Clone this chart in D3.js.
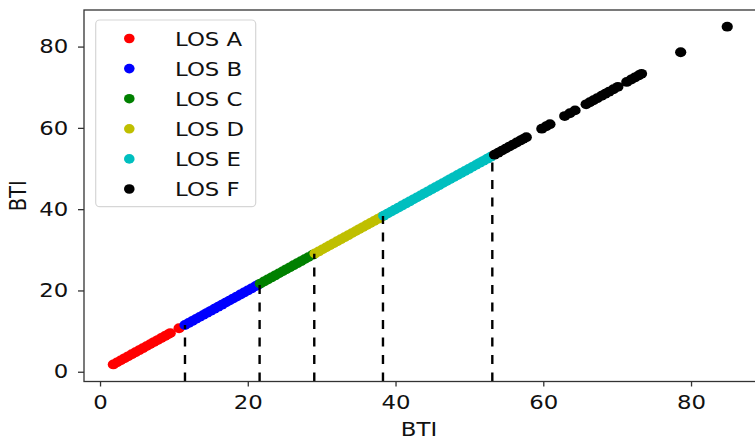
<!DOCTYPE html>
<html>
<head>
<meta charset="utf-8">
<script src="https://cdn.jsdelivr.net/npm/d3@7"></script>
<style>
  html, body { margin: 0; padding: 0; background: #fff; }
  svg { display: block; font-family: "DejaVu Sans", sans-serif; }
</style>
</head>
<body>
<svg id="chart" width="755" height="441"></svg>
<script>
// BTI values per level of service (plotted as BTI against itself)
const losA = [1.8, 2.3, 2.8, 3.3, 3.8, 4.3, 4.8, 5.3, 5.8, 6.3, 6.8, 7.3, 7.8, 8.3, 8.8, 9.2, 9.5, 10.7];
const losB = [11.5, 12.0, 12.5, 13.0, 13.5, 14.0, 14.5, 15.0, 15.5, 16.0, 16.5, 17.0, 17.5, 18.0, 18.5, 19.0, 19.5, 20.0, 20.5, 21.0, 21.4];
const losC = [21.7, 22.2, 22.7, 23.2, 23.7, 24.2, 24.7, 25.2, 25.7, 26.2, 26.7, 27.2, 27.7, 28.2, 28.8];
const losD = [29.1, 29.6, 30.1, 30.6, 31.1, 31.6, 32.1, 32.6, 33.1, 33.6, 34.1, 34.6, 35.1, 35.6, 36.1, 36.6, 37.1, 37.6, 38.1];
const losE = [38.4, 38.9, 39.4, 39.9, 40.4, 40.9, 41.4, 41.9, 42.4, 42.9, 43.4, 43.9, 44.4, 44.9, 45.4, 45.9, 46.4, 46.9, 47.4, 47.9, 48.4, 48.9, 49.4, 49.9, 50.4, 50.9, 51.4, 51.9, 52.4, 52.9];
const losF = [53.4, 53.9, 54.4, 54.9, 55.4, 55.9, 56.4, 56.9, 57.3, 57.7, 59.8, 60.4, 60.9, 62.9, 63.6, 64.3, 65.8, 66.3, 66.8, 67.3, 67.9, 68.4, 68.9, 69.5, 70.1, 71.3, 71.9, 72.4, 72.9, 73.3, 78.6, 84.9];

// LOS thresholds (dashed boundaries)
const thresholds = [11.5, 21.6, 29.0, 38.3, 53.1];

const seriesNames = ["LOS A", "LOS B", "LOS C", "LOS D", "LOS E", "LOS F"];
const seriesColors = ["#ff0000", "#0000ff", "#008000", "#bfbf00", "#00bfbf", "#000000"];
const xTicks = [0, 20, 40, 60, 80];
const yTicks = [0, 20, 40, 60, 80];

const series = [losA, losB, losC, losD, losE, losF].map((vals, i) => ({
  name: seriesNames[i], color: seriesColors[i], values: vals
}));

const svg = d3.select("#chart");
const mLeft = 84, mRight = 759, mTop = 10, mBottom = 381.5;
const SX = 1.17;            // horizontal text stretch
const FONT = 19.5;

const x = d3.scaleLinear().domain([-2.17, 89.2]).range([mLeft, mRight]);
const y = d3.scaleLinear().domain([-2.4, 89.0]).range([mBottom, mTop]);

svg.append("defs").append("clipPath").attr("id", "plotclip")
  .append("rect").attr("x", mLeft).attr("y", mTop)
  .attr("width", mRight - mLeft).attr("height", mBottom - mTop);

const plot = svg.append("g").attr("clip-path", "url(#plotclip)");

// scatter points
series.forEach(s => {
  plot.append("g").selectAll("ellipse").data(s.values).join("ellipse")
    .attr("cx", d => x(d)).attr("cy", d => y(d))
    .attr("rx", 5.6).attr("ry", 4.9)
    .attr("fill", s.color);
});

// dashed threshold lines
plot.append("g").selectAll("line").data(thresholds).join("line")
  .attr("x1", d => x(d)).attr("x2", d => x(d))
  .attr("y1", y(-2.4)).attr("y2", d => y(d))
  .attr("stroke", "#000").attr("stroke-width", 2.4)
  .attr("stroke-dasharray", "9,8.5");

// axes
const xAxis = svg.append("g").attr("transform", `translate(0,${mBottom})`)
  .call(d3.axisBottom(x).tickValues(xTicks).tickFormat(d3.format("d")).tickSize(5).tickPadding(9));
const yAxis = svg.append("g").attr("transform", `translate(${mLeft},0)`)
  .call(d3.axisLeft(y).tickValues(yTicks).tickFormat(d3.format("d")).tickSize(6).tickPadding(7.5));

[xAxis, yAxis].forEach(ax => {
  ax.select(".domain").remove();
  ax.selectAll(".tick line").attr("stroke", "#333").attr("stroke-width", 1.3);
  ax.selectAll(".tick text").attr("fill", "#111").style("font-size", FONT + "px")
    .style("font-family", "'DejaVu Sans', sans-serif")
    .attr("transform", `scale(${SX},1)`);
});

// spines
svg.append("rect").attr("x", mLeft).attr("y", mTop)
  .attr("width", mRight - mLeft).attr("height", mBottom - mTop)
  .attr("fill", "none").attr("stroke", "#333").attr("stroke-width", 1.3);

// axis labels
svg.append("text").attr("transform", `translate(${(mLeft + 754) / 2},436) scale(${SX},1)`)
  .attr("text-anchor", "middle").style("font-size", FONT + "px").attr("fill", "#111").text("BTI");
svg.append("text").attr("transform", `translate(26,${(mTop + mBottom) / 2}) scale(${SX},1) rotate(-90)`)
  .attr("text-anchor", "middle").style("font-size", FONT + "px").attr("fill", "#111").text("BTI");

// legend
const lg = svg.append("g");
lg.append("rect").attr("x", 95.7).attr("y", 20).attr("width", 160).attr("height", 186.7)
  .attr("rx", 4).attr("fill", "#fff").attr("fill-opacity", 0.85)
  .attr("stroke", "#d6d6d6").attr("stroke-width", 1.2);
series.forEach((s, i) => {
  const cy = 38.5 + i * 30.1;
  lg.append("ellipse").attr("cx", 129.3).attr("cy", cy).attr("rx", 5.3).attr("ry", 4.8).attr("fill", s.color);
  lg.append("text").attr("transform", `translate(175,${cy}) scale(${SX},1)`)
    .attr("dy", "0.36em").style("font-size", FONT + "px").attr("fill", "#111").text(s.name);
});
</script>
</body>
</html>
